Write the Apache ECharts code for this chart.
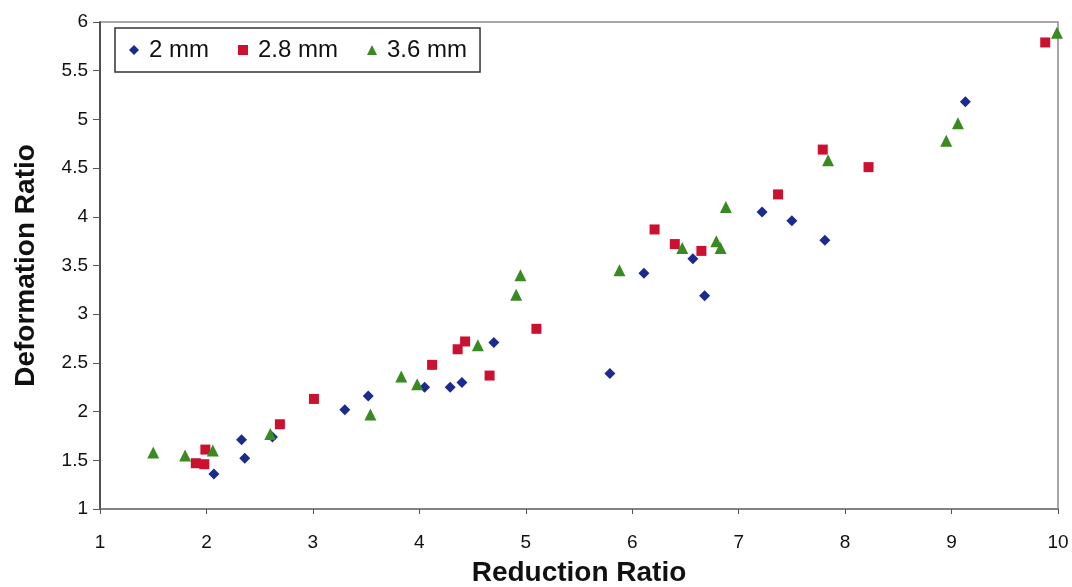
<!DOCTYPE html>
<html>
<head>
<meta charset="utf-8">
<script src="https://cdn.jsdelivr.net/npm/echarts@6/dist/echarts.min.js"></script>
<style>html,body{margin:0;padding:0;background:#fff;}#chart{width:1072px;height:587px;}</style>
</head>
<body>
<div id="chart"></div>
<script>
var seriesNames = ['2 mm', '2.8 mm', '3.6 mm'];
var data2mm = [[2.07,1.36],[2.33,1.71],[2.36,1.52],[2.62,1.74],[3.30,2.02],[3.52,2.16],[4.05,2.25],[4.29,2.25],[4.40,2.30],[4.70,2.71],[5.79,2.39],[6.11,3.42],[6.57,3.57],[6.68,3.19],[7.22,4.05],[7.50,3.96],[7.81,3.76],[9.13,5.18]];
var data28mm = [[1.90,1.47],[1.98,1.46],[1.99,1.61],[2.69,1.87],[3.01,2.13],[4.12,2.48],[4.36,2.64],[4.43,2.72],[4.66,2.37],[5.10,2.85],[6.21,3.87],[6.40,3.72],[6.65,3.65],[7.37,4.23],[7.79,4.69],[8.22,4.51],[9.88,5.79]];
var data36mm = [[1.50,1.58],[1.80,1.55],[2.06,1.60],[2.60,1.77],[3.54,1.97],[3.83,2.36],[3.98,2.28],[4.55,2.68],[4.91,3.20],[4.95,3.40],[5.88,3.45],[6.47,3.68],[6.79,3.75],[6.83,3.68],[6.88,4.10],[7.84,4.58],[8.95,4.78],[9.06,4.96],[9.99,5.89]];
var xTicks = {min: 1, max: 10, interval: 1};
var yTicks = {min: 1, max: 6, interval: 0.5};

var chart = echarts.init(document.getElementById('chart'), null, {renderer: 'canvas'});
var font = 'Liberation Sans, Arial, sans-serif';
chart.setOption({
  animation: false,
  backgroundColor: '#fff',
  grid: {left: 100, right: 14, top: 22, bottom: 78, containLabel: false, outerBoundsMode: 'none', show: true, borderColor: '#8a8a8a', borderWidth: 1.5, backgroundColor: 'transparent'},
  legend: {
    left: 115, top: 28,
    orient: 'horizontal',
    borderColor: '#333', borderWidth: 1.5, padding: [10, 13, 10, 14],
    itemGap: 29, itemWidth: 10, itemHeight: 10,
    textStyle: {fontFamily: font, fontSize: 24, color: '#111', padding: [0, 0, 0, 5]},
    data: seriesNames
  },
  xAxis: {
    type: 'value', min: xTicks.min, max: xTicks.max, interval: xTicks.interval,
    name: 'Reduction Ratio', nameLocation: 'middle', nameGap: 50,
    nameTextStyle: {fontFamily: font, fontSize: 28, fontWeight: 'bold', color: '#111'},
    axisLine: {show: true, lineStyle: {color: '#777', width: 1.5}},
    axisTick: {show: true, inside: false, length: 5, lineStyle: {color: '#555'}},
    axisLabel: {fontFamily: font, fontSize: 19, color: '#111', margin: 24},
    splitLine: {show: false}
  },
  yAxis: {
    type: 'value', min: yTicks.min, max: yTicks.max, interval: yTicks.interval,
    name: 'Deformation Ratio', nameLocation: 'middle', nameGap: 60,
    nameTextStyle: {fontFamily: font, fontSize: 28, fontWeight: 'bold', color: '#111'},
    axisLine: {show: true, lineStyle: {color: '#333', width: 1.5}},
    axisTick: {show: true, inside: false, length: 7, lineStyle: {color: '#555'}},
    axisLabel: {fontFamily: font, fontSize: 19, color: '#111', margin: 12},
    splitLine: {show: false}
  },
  series: [
    {name: seriesNames[0], type: 'scatter', data: data2mm, symbol: 'diamond', symbolSize: 11, itemStyle: {color: '#1b2a8e', opacity: 1}},
    {name: seriesNames[1], type: 'scatter', data: data28mm, symbol: 'rect', symbolSize: 10, itemStyle: {color: '#cc1030', opacity: 1}},
    {name: seriesNames[2], type: 'scatter', data: data36mm, symbol: 'triangle', symbolSize: 12, itemStyle: {color: '#3a8a22', opacity: 1}}
  ]
});
</script>
</body>
</html>
